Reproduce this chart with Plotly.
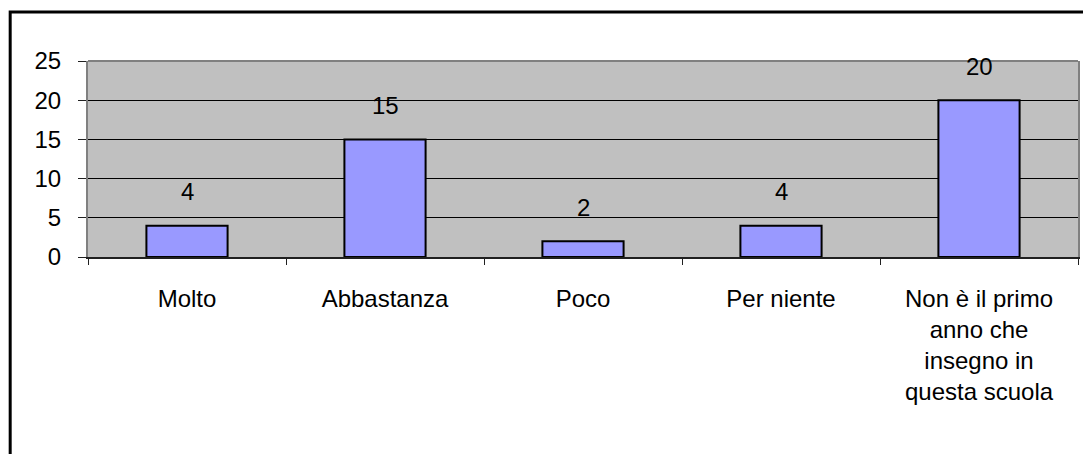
import plotly.graph_objects as go

categories = ["Molto", "Abbastanza", "Poco", "Per niente",
              "Non è il primo<br>anno che<br>insegno in<br>questa scuola"]
values = [4, 15, 2, 4, 20]
y_ticks = [0, 5, 10, 15, 20, 25]

FONT = "Liberation Sans, Arial, sans-serif"

fig = go.Figure()
fig.add_trace(go.Bar(
    x=categories, y=values,
    marker=dict(color="#9999FF", line=dict(color="black", width=2)),
    width=0.41,
))

# data labels sit well above the bars, like Excel does
for c, v in zip(categories, values):
    fig.add_annotation(x=c, y=v, text=str(v), showarrow=False,
                       yanchor="middle", yshift=34,
                       font=dict(family=FONT, size=24, color="black"))

# outer chart frame (right/bottom run off the picture)
fig.add_shape(type="rect", xref="paper", yref="paper",
              x0=-0.0786, x1=1.05, y0=-1.5, y1=1.25,
              line=dict(color="black", width=3), layer="above")
# gray top edge of the plot area
fig.add_shape(type="line", xref="paper", yref="paper",
              x0=0, x1=1, y0=1, y1=1,
              line=dict(color="#808080", width=2))

# page body has an 8px margin, so the figure is a bit smaller and shifted
fig.update_layout(
    width=1083, height=446,
    margin=dict(l=80, r=11, t=53, b=197),
    paper_bgcolor="white", plot_bgcolor="#C0C0C0",
    font=dict(family=FONT, size=24, color="black"),
    showlegend=False,
    bargap=0.59,
)
fig.update_xaxes(
    showline=True, linecolor="#202020", linewidth=1.5,
    ticks="outside", ticklen=6, tickcolor="#202020", tickson="boundaries",
    ticklabelstandoff=19, showgrid=False,
)
fig.update_yaxes(
    range=[0, 25], tickvals=y_ticks,
    showline=True, linecolor="#808080", linewidth=2, mirror=True,
    ticks="outside", ticklen=8, tickcolor="#202020",
    ticklabelstandoff=12,
    showgrid=True, gridcolor="black", gridwidth=1, zeroline=False,
)

fig.write_html("out.html")
